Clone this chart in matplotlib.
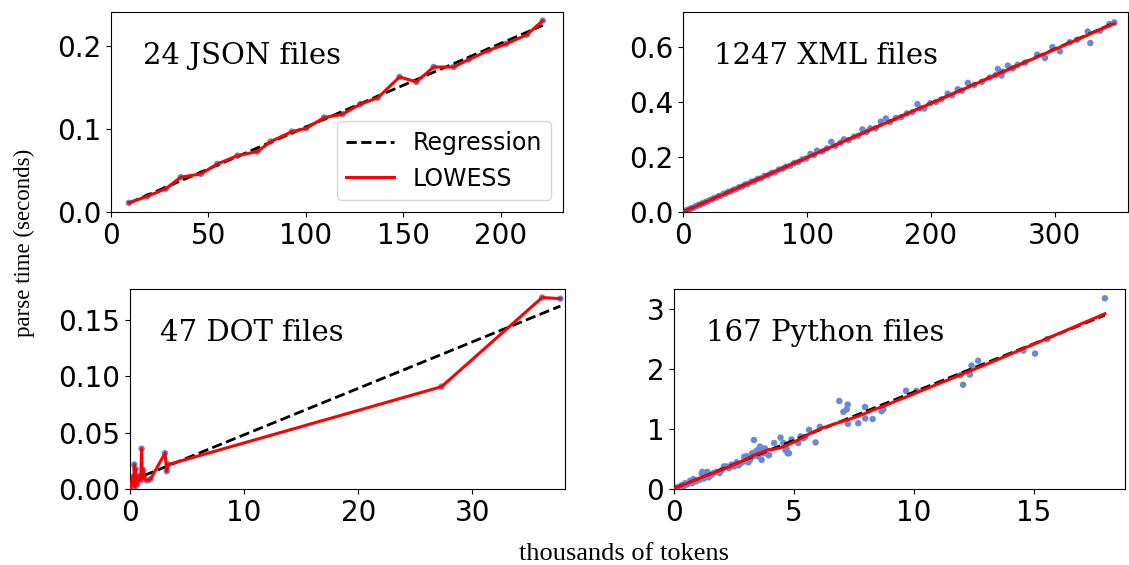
import numpy as np
import matplotlib
matplotlib.use('Agg')
import matplotlib.pyplot as plt

# values (x in thousands of tokens, y in seconds)
json_x = [9.2, 18.7, 28.1, 35.8, 46.2, 54.6, 64.9, 75.2, 82.0, 92.8, 100.2, 109.4,
          118.8, 127.9, 137.0, 148.1, 156.7, 165.6, 175.9, 183.6, 193.8, 202.9, 213.5, 221.6]
json_y = [0.011, 0.019, 0.028, 0.042, 0.046, 0.058, 0.068, 0.073, 0.085, 0.097, 0.101, 0.114,
          0.118, 0.130, 0.138, 0.163, 0.157, 0.175, 0.175, 0.184, 0.195, 0.203, 0.214, 0.231]

xml_x = [0.5, 1.2, 2.0, 2.8, 3.5, 4.4, 5.3, 6.1, 7.0, 8.2, 9.5, 10.8, 12.0, 13.6, 15.1,
         16.7, 18.2, 19.9, 21.5, 23.4, 25.0, 26.8, 28.7, 30.5, 32.6, 34.4, 36.3, 38.5,
         40.7, 42.6, 45.0, 47.3, 49.8, 52.1, 54.9, 57.2, 60.0, 62.8, 65.5, 68.3, 71.2,
         74.0, 77.1, 80.3, 83.0, 86.4, 89.5, 92.8, 96.0, 99.2, 102.7, 105.5, 108.0, 112.4,
         116.0, 119.5, 122.8, 127.0, 129.7, 133.5, 138.0, 141.2, 144.6, 148.0, 151.0,
         155.2, 159.5, 163.5, 167.0, 171.8, 176.0, 180.5, 185.0, 189.0, 192.0, 194.6,
         199.5, 204.0, 208.2, 213.5, 217.0, 221.6, 225.0, 229.7, 235.0, 241.0, 247.5,
         252.0, 254.0, 256.8, 258.0, 262.0, 266.0, 270.0, 276.0, 285.7, 292.0, 298.0,
         304.0, 312.0, 318.0, 326.5, 328.6, 336.5, 344.0, 348.0]
xml_y = [0.001, 0.003, 0.005, 0.005, 0.008, 0.009, 0.010, 0.013, 0.014, 0.015, 0.020, 0.021,
         0.025, 0.026, 0.031, 0.032, 0.037, 0.038, 0.044, 0.045, 0.051, 0.052, 0.058, 0.059,
         0.066, 0.067, 0.073, 0.075, 0.081, 0.083, 0.090, 0.092, 0.100, 0.101, 0.110, 0.111,
         0.120, 0.122, 0.131, 0.133, 0.142, 0.144, 0.154, 0.157, 0.165, 0.168, 0.178, 0.181,
         0.191, 0.194, 0.211, 0.207, 0.223, 0.220, 0.231, 0.255, 0.240, 0.252, 0.264, 0.261,
         0.274, 0.277, 0.300, 0.291, 0.304, 0.304, 0.328, 0.340, 0.327, 0.342, 0.345, 0.358,
         0.363, 0.392, 0.377, 0.376, 0.396, 0.400, 0.409, 0.430, 0.424, 0.446, 0.441, 0.469,
         0.462, 0.473, 0.489, 0.497, 0.520, 0.496, 0.510, 0.532, 0.522, 0.535, 0.543, 0.572,
         0.560, 0.599, 0.584, 0.617, 0.626, 0.656, 0.614, 0.659, 0.683, 0.689]

dot_x = [0.05, 0.12, 0.20, 0.26, 0.32, 0.38, 0.44, 0.50, 0.58, 0.64, 0.73, 0.85, 0.94,
         1.02, 1.08, 1.17, 1.30, 1.45, 1.60, 1.80, 3.07, 3.22, 3.36, 27.3, 36.1, 37.7]
dot_y = [0.001, 0.004, 0.010, 0.011, 0.003, 0.022, 0.002, 0.018, 0.006, 0.004, 0.008, 0.012,
         0.008, 0.036, 0.009, 0.017, 0.009, 0.008, 0.008, 0.009, 0.032, 0.016, 0.022,
         0.091, 0.170, 0.169]

py_x = [0.04, 0.11, 0.20, 0.32, 0.40, 0.46, 0.55, 0.67, 0.75, 0.81, 0.90, 1.00, 1.08, 1.15,
        1.18, 1.25, 1.29, 1.39, 1.45, 1.57, 1.65, 1.78, 1.90, 1.99, 2.08, 2.19, 2.30, 2.40,
        2.50, 2.61, 2.70, 2.80, 2.89, 2.92, 3.03, 3.10, 3.17, 3.26, 3.31, 3.33, 3.42, 3.47,
        3.51, 3.58, 3.65, 3.68, 3.72, 3.79, 3.93, 3.96, 4.17, 4.44, 4.56, 4.65, 4.69, 4.74,
        4.79, 4.90, 5.18, 5.28, 5.39, 5.46, 5.63, 5.90, 6.08, 6.89, 7.06, 7.20, 7.24, 7.25,
        7.68, 7.96, 7.97, 8.28, 8.65, 8.72, 9.67, 10.11, 11.94, 12.05, 12.33, 12.40, 12.68,
        14.56, 15.05, 15.56, 17.96]
py_y = [0.02, 0.03, 0.04, 0.07, 0.05, 0.10, 0.08, 0.14, 0.10, 0.17, 0.13, 0.15, 0.16, 0.26,
        0.29, 0.18, 0.21, 0.29, 0.20, 0.24, 0.27, 0.29, 0.27, 0.32, 0.38, 0.38, 0.35, 0.41,
        0.38, 0.45, 0.40, 0.44, 0.46, 0.54, 0.55, 0.45, 0.49, 0.60, 0.55, 0.82, 0.63, 0.65,
        0.55, 0.71, 0.49, 0.68, 0.60, 0.68, 0.57, 0.57, 0.77, 0.86, 0.77, 0.65, 0.68, 0.60,
        0.60, 0.83, 0.77, 0.88, 0.85, 0.87, 0.99, 0.78, 1.04, 1.47, 1.29, 1.33, 1.41, 1.09,
        1.10, 1.37, 1.18, 1.17, 1.30, 1.33, 1.64, 1.64, 1.90, 1.74, 1.91, 2.06, 2.14,
        2.31, 2.26, 2.50, 3.18]

labels = ['24 JSON files', '1247 XML files', '47 DOT files', '167 Python files']
xlims = [232, 359, 38.1, 18.8]
ylims = [0.2414, 0.727, 0.1773, 3.33]
xticks = [[0, 50, 100, 150, 200], [0, 100, 200, 300], [0, 10, 20, 30], [0, 5, 10, 15]]
yticks = [[0.0, 0.1, 0.2], [0.0, 0.2, 0.4, 0.6], [0.0, 0.05, 0.10, 0.15], [0, 1, 2, 3]]
fracs = [0.0, 0.3, 0.0, 0.25]
robust_passes = [0, 1, 0, 2]

dot_colour = '#6a8ad8'
tick_size = 20


def lowess(x, y, frac, iters=1):
    # local linear smoother with tricube weights and a few robust passes
    x = np.asarray(x, float)
    y = np.asarray(y, float)
    order = np.argsort(x, kind='stable')
    x, y = x[order], y[order]
    n = len(x)
    k = max(int(np.ceil(frac * n)), 3)
    robust = np.ones(n)
    fit = np.empty(n)
    for it in range(iters + 1):
        for i in range(n):
            d = np.abs(x - x[i])
            h = np.sort(d)[k - 1]
            if h > 0:
                w = np.clip(1 - (d / h) ** 3, 0, None) ** 3
            else:
                w = (d == 0).astype(float)
            w = w * robust
            sw = w.sum()
            mx = (w * x).sum() / sw
            my = (w * y).sum() / sw
            var = (w * (x - mx) ** 2).sum()
            b = (w * (x - mx) * (y - my)).sum() / var if var > 0 else 0.0
            fit[i] = my + b * (x[i] - mx)
        res = y - fit
        s = np.median(np.abs(res))
        if s <= 1e-12:
            break
        u = np.clip(res / (6 * s), -1, 1)
        robust = (1 - u ** 2) ** 2
    return x, fit


def draw_panel(ax, x, y, label, frac, passes, legend=False):
    x = np.asarray(x)
    y = np.asarray(y)
    ax.scatter(x, y, s=22, color=dot_colour, edgecolors='none', zorder=1)
    slope, icept = np.polyfit(x, y, 1)
    xr = np.array([x.min(), x.max()])
    ax.plot(xr, slope * xr + icept, 'k--', lw=2, label='Regression', zorder=2)
    lx, ly = lowess(x, y, frac, passes)
    ax.plot(lx, ly, color='red', lw=2.2, label='LOWESS', zorder=3)
    ax.tick_params(labelsize=tick_size)
    ax.text(0.07, 0.78, label, transform=ax.transAxes, fontsize=21,
            family='DejaVu Serif', va='center')
    if legend:
        ax.legend(loc='lower right', fontsize=17)


fig = plt.figure(figsize=(11.29, 5.65), dpi=100)
ax_json = fig.add_axes([0.0983, 0.6248, 0.4004, 0.354])
ax_xml = fig.add_axes([0.6052, 0.6248, 0.3939, 0.354])
ax_dot = fig.add_axes([0.1151, 0.134, 0.3853, 0.354])
ax_py = fig.add_axes([0.597, 0.134, 0.3995, 0.354])

data = [(json_x, json_y), (xml_x, xml_y), (dot_x, dot_y), (py_x, py_y)]
axes = [ax_json, ax_xml, ax_dot, ax_py]
for i, ax in enumerate(axes):
    draw_panel(ax, data[i][0], data[i][1], labels[i], fracs[i], robust_passes[i],
               legend=(i == 0))
    ax.set_xticks(xticks[i])
    ax.set_yticks(yticks[i])
    ax.set_xlim(0, xlims[i])
    ax.set_ylim(0, ylims[i])

fig.text(0.553, 0.02, 'thousands of tokens', ha='center', va='center',
         family='Liberation Serif', fontsize=19)
fig.text(0.022, 0.57, 'parse time (seconds)', ha='center', va='center',
         rotation=90, family='Liberation Serif', fontsize=16.5)

fig.savefig('out.png', dpi=100)
